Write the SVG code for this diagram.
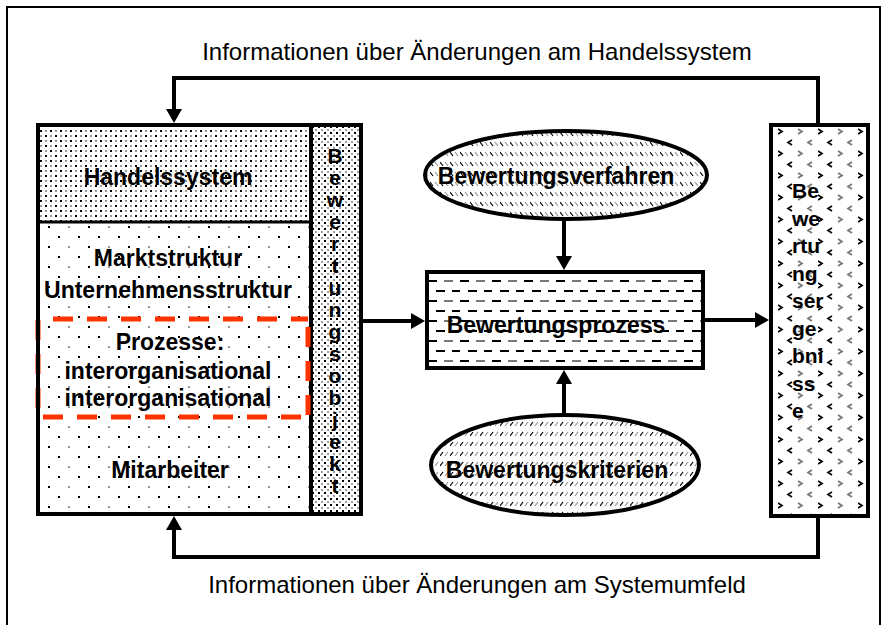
<svg xmlns="http://www.w3.org/2000/svg" width="885" height="625" viewBox="0 0 885 625">
<style>
.lbl{font-family:"Liberation Sans",Arial,sans-serif;font-weight:bold;font-size:23px;fill:#000;text-anchor:middle}
.let{font-family:"Liberation Sans",Arial,sans-serif;font-weight:bold;font-size:21px;fill:#000;text-anchor:middle}
.rlet{font-family:"Liberation Sans",Arial,sans-serif;font-weight:bold;font-size:21px;fill:#000;text-anchor:start}
.info{font-family:"Liberation Sans",Arial,sans-serif;font-size:24px;fill:#000;text-anchor:middle}
.box{stroke:#000;stroke-width:4}
.conn{fill:none;stroke:#000;stroke-width:4}
.red{stroke:#FF3300;stroke-width:5;stroke-dasharray:20 14;fill:none}
</style>
<defs>
<pattern id="dense" width="10" height="10" patternUnits="userSpaceOnUse">
<rect width="10" height="10" fill="#fff"/>
<rect x="0" y="0" width="2" height="2" fill="#000"/>
<rect x="5" y="5" width="2" height="2" fill="#000"/>
<circle cx="6" cy="1" r="1.1" fill="#888"/>
<circle cx="1" cy="6" r="1.1" fill="#888"/>
</pattern>
<pattern id="sparse" width="40" height="20" patternUnits="userSpaceOnUse" x="8" y="6">
<rect width="40" height="20" fill="#fff"/>
<rect x="0" y="0" width="2" height="2" fill="#000"/>
<circle cx="21" cy="1" r="1.2" fill="#999"/>
<rect x="10" y="10" width="2" height="2" fill="#000"/>
<rect x="30" y="10" width="2" height="2" fill="#000"/>
</pattern>
<pattern id="col" width="6" height="6" patternUnits="userSpaceOnUse">
<rect width="6" height="6" fill="#fff"/>
<rect x="0" y="0" width="2" height="2" fill="#000"/>
<circle cx="4" cy="4" r="1.1" fill="#888"/>
</pattern>
<pattern id="dash" width="32" height="20" patternUnits="userSpaceOnUse" x="428" y="280">
<rect width="32" height="20" fill="#fff"/>
<rect x="0" y="0" width="9" height="2" fill="#000"/>
<rect x="16" y="0" width="9" height="2" fill="#777"/>
<rect x="8" y="10" width="9" height="2" fill="#000"/>
<rect x="24" y="10" width="9" height="2" fill="#000"/>
</pattern>
<pattern id="back" width="10" height="10" patternUnits="userSpaceOnUse">
<rect width="10" height="10" fill="#fff"/>
<path d="M0,2 L3,6" stroke="#000" stroke-width="1.2"/>
<path d="M5,2 L8,6" stroke="#999" stroke-width="1.2"/>
</pattern>
<pattern id="fwd" width="10" height="10" patternUnits="userSpaceOnUse">
<rect width="10" height="10" fill="#fff"/>
<path d="M0,6 L3,2" stroke="#000" stroke-width="1.2"/>
<path d="M5,6 L8,2" stroke="#999" stroke-width="1.2"/>
</pattern>
<pattern id="chev" width="40" height="22" patternUnits="userSpaceOnUse" x="778" y="128">
<rect width="40" height="22" fill="#fff"/>
<path d="M0,1 L4,3.5 L0,6" stroke="#000" stroke-width="1.7" fill="none"/>
<path d="M20,1 L24,3.5 L20,6" stroke="#777" stroke-width="1.7" fill="none"/>
<path d="M14,12 L10,14.5 L14,17" stroke="#000" stroke-width="1.7" fill="none"/>
<path d="M34,12 L30,14.5 L34,17" stroke="#777" stroke-width="1.7" fill="none"/>
</pattern>
<marker id="ah" viewBox="0 0 14 16" refX="8" refY="8" markerWidth="14" markerHeight="16" markerUnits="userSpaceOnUse" orient="auto">
<path d="M0,0 L14,8 L0,16 z" fill="#000"/>
</marker>
</defs>

<rect x="7" y="7" width="873" height="640" fill="#fff" stroke="#000" stroke-width="2"/>

<text class="info" x="477" y="60">Informationen über Änderungen am Handelssystem</text>
<text class="info" x="477" y="593">Informationen über Änderungen am Systemumfeld</text>

<g id="objekt">
<rect x="38" y="125" width="273" height="97" fill="url(#dense)"/>
<rect x="38" y="222" width="273" height="292" fill="url(#sparse)"/>
<rect x="311" y="125" width="50" height="389" fill="url(#col)"/>
<line x1="38" y1="222" x2="311" y2="222" stroke="#000" stroke-width="3"/>
<line x1="311" y1="125" x2="311" y2="514" class="box"/>
<line class="red" x1="53" y1="319" x2="308" y2="319"/>
<line class="red" x1="43" y1="417" x2="308" y2="417"/>
<line class="red" x1="38" y1="320" x2="38" y2="417"/>
<line class="red" x1="308" y1="327" x2="308" y2="417"/>
<rect x="38" y="125" width="323" height="389" fill="none" class="box"/>
<text class="lbl" x="168" y="185">Handelssystem</text>
<text class="lbl" x="168" y="266">Marktstruktur</text>
<text class="lbl" x="168" y="298">Unternehmensstruktur</text>
<text class="lbl" x="170" y="350">Prozesse:</text>
<text class="lbl" x="168" y="379">interorganisational</text>
<text class="lbl" x="168" y="406">interorganisational</text>
<text class="lbl" x="170" y="478">Mitarbeiter</text>
<g class="let">
<text x="335" y="163">B</text><text x="335" y="185">e</text><text x="335" y="207">w</text><text x="335" y="229">e</text>
<text x="335" y="251">r</text><text x="335" y="273">t</text><text x="335" y="295">u</text><text x="335" y="317">n</text>
<text x="335" y="339">g</text><text x="335" y="361">s</text><text x="335" y="383">o</text><text x="335" y="405">b</text>
<text x="335" y="427">j</text><text x="335" y="449">e</text><text x="335" y="471">k</text><text x="335" y="493">t</text>
</g>
</g>

<g id="verfahren">
<ellipse cx="566" cy="175" rx="141" ry="44" fill="url(#back)" class="box"/>
<text class="lbl" x="556" y="184">Bewertungsverfahren</text>
</g>

<g id="prozess">
<rect x="427" y="272" width="276" height="96" fill="url(#dash)" class="box"/>
<text class="lbl" x="556" y="333">Bewertungsprozess</text>
</g>

<g id="kriterien">
<ellipse cx="565" cy="465" rx="134" ry="50" fill="url(#fwd)" class="box"/>
<text class="lbl" x="557" y="478">Bewertungskriterien</text>
</g>

<g id="ergebnisse">
<rect x="771" y="125" width="97" height="391" fill="url(#chev)" class="box"/>
<g class="rlet">
<text x="792" y="198">Be</text><text x="792" y="226">we</text><text x="792" y="253">rtu</text>
<text x="792" y="281">ng</text><text x="792" y="308">ser</text><text x="792" y="336">ge</text>
<text x="792" y="363">bni</text><text x="792" y="391">ss</text><text x="792" y="418">e</text>
</g>
</g>

<g id="connectors">
<path class="conn" d="M818,125 V78 H174 V117" marker-end="url(#ah)"/>
<path class="conn" d="M818,516 V557 H174 V522" marker-end="url(#ah)"/>
<path class="conn" d="M363,321 H419" marker-end="url(#ah)"/>
<path class="conn" d="M705,320 H763" marker-end="url(#ah)"/>
<path class="conn" d="M564,219 V264" marker-end="url(#ah)"/>
<path class="conn" d="M564,415 V376" marker-end="url(#ah)"/>
</g>
</svg>
